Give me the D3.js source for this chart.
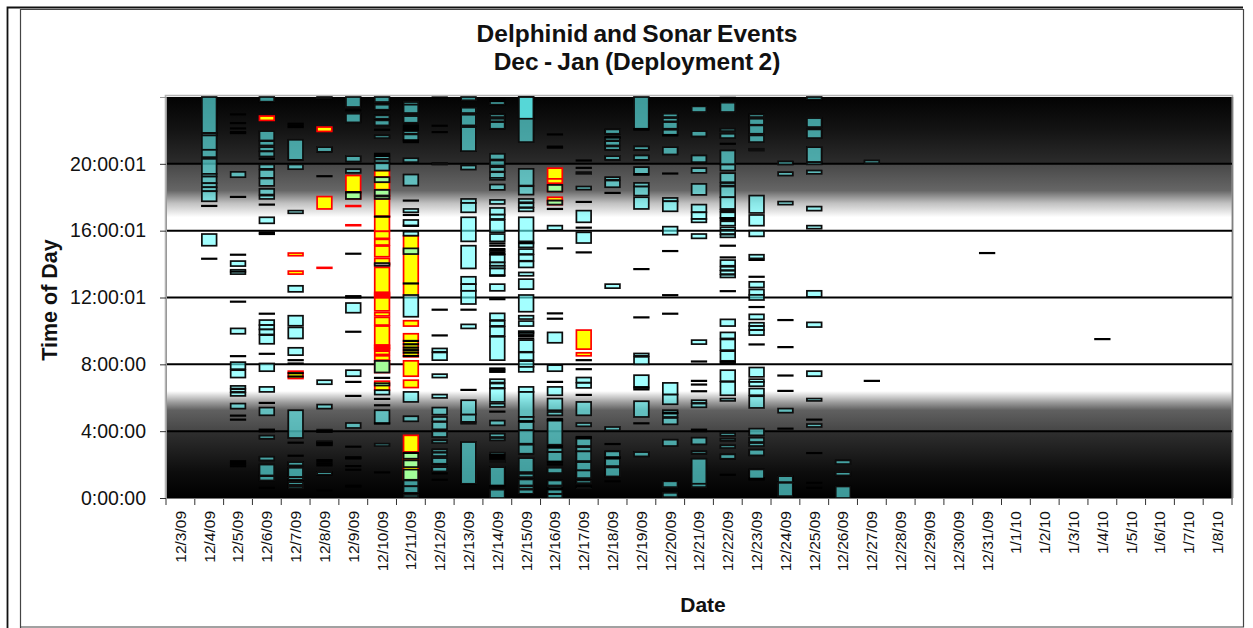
<!DOCTYPE html>
<html><head><meta charset="utf-8">
<script src="https://cdn.jsdelivr.net/npm/d3@7/dist/d3.min.js"></script>
<style>html,body{margin:0;padding:0;background:#fff}svg{display:block}text{font-family:"Liberation Sans",Arial,sans-serif;fill:#111}</style>
</head><body><svg id="c" width="1253" height="628"></svg>
<script>
const dates=["12/3/09","12/4/09","12/5/09","12/6/09","12/7/09","12/8/09","12/9/09","12/10/09","12/11/09","12/12/09","12/13/09","12/14/09","12/15/09","12/16/09","12/17/09","12/18/09","12/19/09","12/20/09","12/21/09","12/22/09","12/23/09","12/24/09","12/25/09","12/26/09","12/27/09","12/28/09","12/29/09","12/30/09","12/31/09","1/1/10","1/2/10","1/3/10","1/4/10","1/5/10","1/6/10","1/7/10","1/8/10"];
const hourTicks=[0,4,8,12,16,20];
const hourLabels=["0:00:00","4:00:00","8:00:00","12:00:01","16:00:01","20:00:01"];
// Background light level through the day: [hour, grey]
const daylight=[[0,"#000000"],[1.5,"#0c0c0c"],[3.95,"#2f2f2f"],[3.96,"#454545"],[5.25,"#606060"],[5.75,"#a0a0a0"],[6.4,"#ffffff"],[16.8,"#ffffff"],[17.65,"#c0c0c0"],[18.4,"#666666"],[19.97,"#484848"],[19.98,"#2c2c2c"],[22,"#141414"],[24,"#030303"]];
// Dolphin events per date: [start hour, end hour]
const dolphin={
"12/4/09":[[21.84,24],[21.7,21.84],[20.84,21.7],[20.4,20.84],[19.4,20.3],[19.24,19.4],[18.84,19.24],[18.6,18.84],[18.36,18.6],[17.76,18.36],[15.1,15.8]],
"12/5/09":[[19.2,19.52],[13.88,14.18],[13.4,13.66],[9.83,10.15],[7.71,8.13],[7.21,7.65],[6.55,6.71],[6.35,6.51],[6.11,6.31],[5.35,5.65]],
"12/6/09":[[23.72,24],[21.4,21.96],[21.1,21.36],[20.76,21],[20.44,20.74],[19.7,19.96],[19.16,19.64],[18.68,19.12],[18.16,18.5],[17.9,18.1],[16.44,16.8],[10.35,10.65],[10.09,10.35],[9.79,10.09],[9.23,9.75],[7.59,8.05],[6.35,6.65],[4.95,5.41],[3.55,3.73],[2.25,2.47],[1.35,2],[1.05,1.31]],
"12/7/09":[[20.24,21.44],[19.68,19.96],[17.04,17.2],[12.34,12.7],[10.31,10.91],[9.55,10.21],[8.55,8.99],[3.59,5.25],[1.95,2.15],[1.25,1.81],[1.09,1.25],[0.79,0.95],[0.59,0.71]],
"12/8/09":[[23.9,24],[20.72,21],[6.81,7.05],[5.35,5.59],[3.95,4.09],[3.15,3.39],[1.39,1.55]],
"12/9/09":[[23.4,24],[22.48,23],[20.14,20.46],[19.46,19.68],[17.9,18.3],[11.09,11.67],[7.29,7.65],[4.19,4.49],[2.35,2.45],[0.67,0.75]],
"12/10/09":[[23.7,24],[23.24,23.54],[22.7,22.9],[22.3,22.6],[21.54,21.7],[20.3,20.46],[20.08,20.26],[19.6,20.04],[18.9,19.2],[18.1,18.44],[17.9,18.04],[13.9,14.06],[7.51,8.21],[6.73,6.87],[6.19,6.45],[4.45,5.25],[3.11,3.25]],
"12/11/09":[[23.54,23.7],[23.04,23.54],[22.46,22.86],[21.8,21.96],[21.4,21.76],[20.1,20.34],[18.7,19.36],[17.1,17.3],[16.28,16.64],[15.7,15.94],[14.6,14.94],[10.85,12.15],[5.75,6.35],[4.59,4.89],[2.35,2.69],[1.85,2.25],[1.09,1.7],[0.7,1.05],[0.31,0.7],[0.05,0.19]],
"12/12/09":[[19.96,20.04],[8.75,8.95],[8.25,8.71],[7.21,7.41],[5.99,6.19],[4.99,5.41],[4.59,4.85],[4.11,4.55],[3.65,3.99],[3.29,3.45],[2.75,2.91],[2.51,2.71],[2.05,2.39],[1.59,1.85]],
"12/13/09":[[23.8,24],[23.04,23.36],[22.3,22.94],[20.76,22.2],[19.66,19.9],[17.66,17.9],[17.1,17.66],[15.36,16.8],[13.74,15.1],[12.8,13.24],[12.4,12.8],[11.61,12.4],[10.15,10.39],[4.99,5.85],[4.55,4.99],[4.45,4.55],[0.85,3.35]],
"12/14/09":[[23.54,23.74],[22.8,22.96],[22.54,22.7],[22.1,22.5],[20.26,20.6],[19.9,20.2],[19.54,19.8],[19.16,19.5],[19.04,19.16],[18.44,18.76],[17.6,17.84],[16.96,17.36],[16.7,16.96],[15.9,16.64],[15.36,15.8],[14.1,14.56],[13.9,14.1],[13.74,13.9],[13.34,13.74],[12.4,12.8],[10.65,11.05],[10.3,10.6],[9.7,10.25],[8.25,9.65],[6.91,7.11],[6.59,6.85],[5.75,6.55],[5.45,5.65],[4.35,4.63],[3.65,3.85],[3.45,3.59],[2.59,2.71],[2.15,2.25],[0.75,1.85],[0,0.5]],
"12/15/09":[[21.3,24],[22.7,24],[18.7,19.7],[18.16,18.66],[17.7,17.9],[17.4,17.64],[17.16,17.36],[15.36,16.8],[15,15.3],[14.6,14.9],[14.2,14.56],[13.8,14.16],[13.3,13.5],[12.5,13.1],[11.15,12.15],[10.71,10.91],[10.29,10.59],[9.79,9.99],[8.75,9.45],[8.25,8.71],[7.85,8.19],[7.55,7.85],[6.35,6.65],[4.85,6.35],[4.55,4.85],[4.05,4.55],[3.25,4.05],[2.65,3.19],[1.55,2.39],[1.25,1.45],[0.75,1.11],[0.54,0.7],[0.25,0.5]],
"12/16/09":[[18.34,18.74],[17.56,17.8],[16.04,16.3],[9.29,9.91],[7.59,7.95],[6.15,6.65],[5.25,5.95],[4.95,5.15],[3.19,4.65],[2.75,3],[2.19,2.75],[1.49,1.81],[0.75,1.05],[0.55,0.7],[0.25,0.5],[0,0.23]],
"12/17/09":[[19.4,19.5],[18.46,18.64],[16.5,17.2],[15.26,15.9],[6.91,7.21],[6.59,6.89],[4.95,5.75],[4.29,4.49],[3.11,3.55],[2.79,3.05],[2.21,2.79],[1.65,2.15],[1.19,1.65],[0.89,1.05],[0.59,0.7]],
"12/18/09":[[21.8,22.06],[21.4,21.56],[21.1,21.36],[20.84,21.04],[20.24,20.46],[19.04,19.2],[18.6,19],[12.56,12.8],[4.05,4.25],[2.45,2.79],[1.91,2.35],[1.29,1.83]],
"12/19/09":[[22.1,24],[20.84,21.04],[20.24,20.5],[19.4,19.8],[18.64,18.86],[18.1,18.64],[17.3,18],[8.51,8.65],[8,8.45],[6.65,7.35],[4.85,5.79],[2.49,2.75]],
"12/20/09":[[22.8,23],[22.54,22.74],[22.1,22.5],[21.74,22.04],[20.56,21],[17.76,17.96],[17.16,17.76],[15.76,16.24],[6.19,6.89],[5.61,6.19],[5.09,5.25],[4.85,5.05],[4.41,4.79],[3.11,3.49],[0.65,1],[0.05,0.31]],
"12/21/09":[[23.1,23.44],[21.64,21.96],[20.1,20.5],[19.46,19.74],[18.14,18.8],[17.1,17.56],[16.7,17.1],[16.5,16.7],[15.54,15.8],[9.21,9.45],[5.69,5.85],[5.43,5.65],[3.21,3.61],[2.65,2.79],[0.85,2.35],[0.65,0.85]],
"12/22/09":[[23.1,23.66],[21.96,22.1],[21.54,21.8],[19.96,20.8],[19.6,19.96],[18.9,19.44],[18.7,18.85],[18,18.64],[17.3,18],[17.15,17.25],[16.76,17.1],[16.3,16.56],[16.05,16.2],[15.8,16],[15.6,15.76],[13.9,14.24],[13.64,13.84],[13.4,13.6],[13.2,13.36],[10.29,10.69],[9.55,9.91],[8.85,9.49],[8.21,8.79],[6.99,7.65],[6.15,6.95],[5.81,5.95],[3.73,3.89],[3.43,3.55],[2.99,3.15],[2.35,2.61]],
"12/23/09":[[22.8,22.96],[22.34,22.7],[21.8,22.3],[21.3,21.7],[20.8,20.9],[17.06,18.1],[16.3,16.94],[15.66,16],[14.34,14.56],[12.6,12.94],[12.16,12.48],[11.85,12.16],[10.69,10.99],[10.29,10.49],[10.05,10.29],[9.75,10.05],[7.25,7.81],[6.95,7.11],[6.69,6.95],[6.15,6.55],[5.39,6.09],[3.75,4.15],[3.35,3.61],[3.11,3.29],[2.55,2.89],[1.09,1.71]],
"12/24/09":[[19.96,20.14],[19.3,19.5],[17.56,17.74],[5.11,5.35],[0.95,1.31],[0.11,0.91]],
"12/25/09":[[23.84,24],[22.2,22.74],[21.54,22.06],[20.1,21],[19.97,20.1],[19.4,19.6],[17.2,17.44],[16.12,16.3],[12.04,12.4],[10.23,10.51],[7.29,7.59],[5.81,5.95],[4.25,4.43]],
"12/26/09":[[2.03,2.25],[1.35,1.55],[0,0.69]],
"12/27/09":[[20.04,20.2]]
};
// Very brief dolphin events, seen as single dark dashes: hour per date
const briefEvents={
"12/4/09":[17.48,14.32],
"12/5/09":[22.96,22.44,22.12,21.84,21.9,18.02,14.56,13.55,11.75,8.49,4.93,4.69,2.2,2.1,2.0,1.9],
"12/6/09":[20.3,17.56,15.9,15.8,11.03,8.63,5.69,4.09,3.99,0.61],
"12/7/09":[22.4,22.3,22.2,8.25,8.05,7.47,7.27,3.31,2.53],
"12/8/09":[19.26,4.0,3.3,3.2,2.27,2.17,2.05,1.95,0.45],
"12/9/09":[23.2,18.3,14.62,12.08,12.0,9.95,6.95,6.11,3.07,2.4,1.91,1.69,0.71],
"12/10/09":[22.04,20.6,20.5,16.84,7.19,5.93,5.55,4.47,1.53],
"12/11/09":[22.3,22.2,22.1,22.04,21.4,21.3,17.8,16.94,16.3,12.84,9.4,9.2,9.0,8.85,8.7,8.5,2.7],
"12/12/09":[23.97,22.28,21.9,11.27,9.73,1.47,1.09],
"12/13/09":[11.27,6.47,0.02],
"12/14/09":[23.9,23.8,15.24,15.1,14.9,14.8,14.7,14.6,13.3,11.9,7.75,7.65,7.55,5.17,2.55,2.45,2.35,0.7],
"12/15/09":[15.25,9.9,9.7,9.55,4.6],
"12/16/09":[21.76,21.03,20.97,17.3,14.94,11.05,10.73,6.95,4.72,4.65,3.1,2.12,2.0,0.58],
"12/17/09":[20.2,19.76,17.72,16.18,14.7,8.25,7.71,6.17,3.65,3.6,0.7],
"12/18/09":[21.6,18.26,3.23,2.4,1.0],
"12/19/09":[22.05,19.35,13.7,10.81,6.6,6.5,4.47],
"12/20/09":[21.7,19.42,14.78,12.14,11.03,5.1],
"12/21/09":[8.17,7.01,6.79,6.39,4.09,4.0],
"12/22/09":[23.95,21.2,16.75,16.65,15.1,14.4,12.38,8.15,8.05,1.39],
"12/23/09":[13.24,11.43,9.19,14.25,1.15],
"12/24/09":[10.65,9.03,7.33,6.41,4.15],
"12/25/09":[4.69,2.69,0.91,0.61],
"12/27/09":[7.01],
"12/31/09":[14.66],
"1/4/10":[9.51]
};
// Sonar events per date: [start hour, end hour]
const sonar={
"12/6/09":[[22.6,22.86]],
"12/7/09":[[14.5,14.66],[13.4,13.58],[7.15,7.59]],
"12/8/09":[[21.94,22.2],[17.3,18.04],[13.75,13.8]],
"12/9/09":[[18.3,19.3],[17.9,18.3],[17.45,17.5],[16.3,16.35]],
"12/10/09":[[19.2,19.6],[18.9,19.2],[18.45,18.9],[18.1,18.45],[17.9,18.1],[16.85,17.9],[15.96,16.85],[15.54,15.96],[15.14,15.48],[14.44,15.08],[14,14.34],[13.9,14],[12.3,13.8],[12.22,12.3],[12.14,12.22],[12.06,12.14],[11.98,12.06],[11.2,11.98],[10.9,11.1],[10.35,10.81],[9.15,10.29],[9.07,9.15],[8.99,9.07],[8.92,8.99],[8.85,8.92],[8.59,8.79],[8.25,8.51],[7.51,8.21],[6.45,6.99]],
"12/11/09":[[12.1,15.7],[10.29,10.61],[8.45,9.83],[7.29,8.21],[6.61,7.05],[2.75,3.75],[2.35,2.75],[1.09,2.35]],
"12/16/09":[[19.1,19.74],[18.84,19.1],[18.34,18.74],[17.8,18],[17.56,17.8]],
"12/17/09":[[8.91,10.05],[8.51,8.69]]
};
const W=1253,H=628,L=166,R=1232,T=97,B=498;
const svg=d3.select("#c");
const x=d3.scaleBand().domain(dates).range([L,R]).paddingInner(.49).paddingOuter(.245);
const y=d3.scaleLinear().domain([0,24]).range([B,T]);

// outer frame
const frame=svg.append("g").attr("fill","none");
frame.append("path").attr("d",`M7.5,628V7.5H1243`).attr("stroke","#111").attr("stroke-width",1.8);
frame.append("path").attr("d",`M20.5,628V9.5H1243.5V627H20.5`).attr("stroke","#444").attr("stroke-width",1.2);

// plot background gradient
const grad=svg.append("defs").append("linearGradient").attr("id","day").attr("gradientUnits","userSpaceOnUse")
  .attr("x1",0).attr("x2",0).attr("y1",y(0)).attr("y2",y(24));
grad.selectAll("stop").data(daylight).join("stop").attr("offset",d=>d[0]/24).attr("stop-color",d=>d[1]);
svg.select("defs").append("filter").attr("id","soft").attr("x","-5%").attr("y","-5%").attr("width","110%").attr("height","110%")
  .append("feGaussianBlur").attr("stdDeviation",.4);
svg.append("rect").attr("x",L).attr("y",T).attr("width",R-L).attr("height",B-T).attr("fill","url(#day)");
svg.append("path").attr("d",`M${L-.5},${B}V${T-1.5}H${R+.5}V${B}`).attr("fill","none").attr("stroke","#b5b5b5").attr("stroke-width",1.6);
svg.append("path").attr("d",`M${R+.5},${T}V${B}`).attr("stroke","#808080").attr("stroke-width",1.6);

// grid
svg.append("g").selectAll("line").data(hourTicks.slice(1)).join("line")
  .attr("x1",L).attr("x2",R).attr("y1",d=>y(d)).attr("y2",d=>y(d)).attr("stroke","#000").attr("stroke-width",2);

// events
const marks=svg.append("g").attr("filter","url(#soft)");
const sonarRows=Object.entries(sonar).flatMap(([d,a])=>a.map(e=>({d,e})));
marks.append("g").selectAll("rect").data(sonarRows).join("rect")
  .attr("x",r=>x(r.d)).attr("width",x.bandwidth())
  .attr("y",r=>y(r.e[1])).attr("height",r=>y(r.e[0])-y(r.e[1]))
  .attr("fill","#ffff00").attr("stroke","#ff0000").attr("stroke-width",1.7);
const dolphinRows=Object.entries(dolphin).flatMap(([d,a])=>a.map(e=>({d,e})));
marks.append("g").selectAll("rect").data(dolphinRows).join("rect")
  .attr("x",r=>x(r.d)).attr("width",x.bandwidth())
  .attr("y",r=>y(r.e[1])).attr("height",r=>y(r.e[0])-y(r.e[1]))
  .attr("fill","#66ffff").attr("fill-opacity",.6).attr("stroke","#0a0a0a").attr("stroke-width",1.7);
const briefRows=Object.entries(briefEvents).flatMap(([d,a])=>a.map(h=>({d,h})));
marks.append("g").selectAll("line").data(briefRows).join("line")
  .attr("x1",r=>x(r.d)-.8).attr("x2",r=>x(r.d)+x.bandwidth()+.8)
  .attr("y1",r=>y(r.h)).attr("y2",r=>y(r.h)).attr("stroke","#000").attr("stroke-width",2.2);

// axes
const ax=svg.append("g").attr("transform",`translate(0,${B})`)
  .call(d3.axisBottom(x).tickSize(0).tickPadding(0));
ax.select(".domain").remove();
ax.selectAll("text").attr("transform","translate(0,13) rotate(-90)")
  .attr("text-anchor","end").attr("dy",".35em").attr("y",0).attr("x",0).attr("font-size",15.5).attr("fill","#111").style("font-family",'"Liberation Sans",Arial,sans-serif');
const edges=d3.range(dates.length+1).map(i=>L+i*x.step());
svg.append("g").selectAll("line").data(edges).join("line").attr("x1",d=>d).attr("x2",d=>d).attr("y1",B).attr("y2",B+7).attr("stroke","#333").attr("stroke-width",1);
svg.append("line").attr("x1",L).attr("x2",R+.5).attr("y1",B+.5).attr("y2",B+.5).attr("stroke","#777").attr("stroke-width",1.2);

const ay=svg.append("g").attr("transform",`translate(${L},0)`)
  .call(d3.axisLeft(y).tickValues(hourTicks).tickFormat((d,i)=>hourLabels[i]).tickSize(6).tickPadding(14));
ay.select(".domain").attr("stroke","#999");
ay.selectAll("line").attr("stroke","#333");
ay.selectAll("text").attr("font-size",19.5).attr("fill","#111").style("font-family",'"Liberation Sans",Arial,sans-serif');

// titles
svg.append("text").attr("x",637).attr("y",42).attr("text-anchor","middle").attr("font-weight","bold").attr("font-size",24.5).attr("word-spacing",-1.5).text("Delphinid and Sonar Events");
svg.append("text").attr("x",637).attr("y",70).attr("text-anchor","middle").attr("font-weight","bold").attr("font-size",24.5).attr("word-spacing",-1.5).text("Dec - Jan (Deployment 2)");
svg.append("text").attr("transform","translate(57,300) rotate(-90)").attr("text-anchor","middle").attr("font-weight","bold").attr("font-size",21.5).text("Time of Day");
svg.append("text").attr("x",703).attr("y",612).attr("text-anchor","middle").attr("font-weight","bold").attr("font-size",21).text("Date");
</script></body></html>
